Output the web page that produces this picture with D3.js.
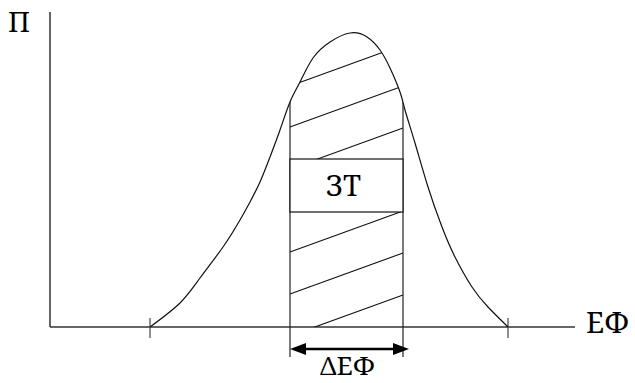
<!DOCTYPE html>
<html>
<head>
<meta charset="utf-8">
<script src="https://cdn.jsdelivr.net/npm/d3@7"></script>
</head>
<body style="margin:0">
<div id="chart"></div>
<script>
// schematic distribution curve, units are arbitrary (x: ЕФ, y: П)
const curveX = [20, 26, 30, 34.6, 38, 40, 42, 44, 46, 48, 50, 52.6, 56, 60, 63.4, 66, 68, 70, 71, 73, 75.6, 78.4, 81, 84.4, 87.6, 91.6];
const curveY = [0, 4.8, 9.8, 16, 21.4, 25, 29, 34, 39.4, 45, 49, 53.8, 57, 58.8, 58, 55.4, 51.8, 47, 43.4, 36.8, 28, 20, 14, 8, 4, 0];

const tickValues = [20, 91.6];
const band = [48, 70.6];          // ΔЕФ
const boxRange = [23, 33.6];      // ЗТ box, y units
const hatchStarts = [48.2, 40, 31.6, 23.2, 15, 6.6, -1.8]; // y at left edge of band
const hatchRise = 8.2;

const labels = { y: 'П', x: 'ЕФ', box: 'ЗТ', band: 'ΔЕФ' };
// Liberation Serif here has no Cyrillic, so go to fonts that do
const serif = 'Noto Serif, DejaVu Serif, serif';

const w = 635, h = 383;
const svg = d3.select('#chart').append('svg')
  .attr('width', w)
  .attr('height', h);

const x = d3.scaleLinear().domain([0, 105]).range([50, 575]);
const y = d3.scaleLinear().domain([0, 60]).range([327, 27]);

const pts = curveX.map((d, i) => [d, curveY[i]]);

const line = d3.line()
  .x(d => x(d[0]))
  .y(d => y(d[1]))
  .curve(d3.curveNatural);

const area = d3.area()
  .x(d => x(d[0]))
  .y0(y(0))
  .y1(d => y(d[1]))
  .curve(d3.curveNatural);

const defs = svg.append('defs');
defs.append('clipPath').attr('id', 'under')
  .append('path').attr('d', area(pts));

// under curve plus everything below the axis (for the band edges)
const edgeClip = defs.append('clipPath').attr('id', 'edges');
edgeClip.append('path').attr('d', area(pts));
edgeClip.append('rect')
  .attr('x', 0).attr('y', y(0))
  .attr('width', w).attr('height', h - y(0));

// axes
svg.append('line')
  .attr('x1', x(0)).attr('x2', x(0))
  .attr('y1', 12).attr('y2', y(0))
  .style('stroke', '#333').style('stroke-width', 1.5);
svg.append('line')
  .attr('x1', x(0)).attr('x2', x(105))
  .attr('y1', y(0)).attr('y2', y(0))
  .style('stroke', '#333').style('stroke-width', 1.5);

svg.selectAll('.tick')
  .data(tickValues)
  .enter()
  .append('line')
  .attr('class', 'tick')
  .attr('x1', d => x(d)).attr('x2', d => x(d))
  .attr('y1', y(0) - 9).attr('y2', y(0) + 11)
  .style('stroke', '#444').style('stroke-width', 1.2);

// hatch
svg.append('g')
  .attr('clip-path', 'url(#under)')
  .selectAll('line')
  .data(hatchStarts)
  .enter()
  .append('line')
  .attr('x1', x(band[0])).attr('x2', x(band[1]))
  .attr('y1', d => y(d)).attr('y2', d => y(d + hatchRise))
  .style('stroke', '#111').style('stroke-width', 1.1);

// band edges
svg.append('g')
  .attr('clip-path', 'url(#edges)')
  .selectAll('line')
  .data(band)
  .enter()
  .append('line')
  .attr('x1', d => x(d)).attr('x2', d => x(d))
  .attr('y1', 0).attr('y2', 357)
  .style('stroke', '#222').style('stroke-width', 1.2);

// curve
svg.append('path')
  .datum(pts)
  .attr('d', line)
  .style('fill', 'none')
  .style('stroke', '#111')
  .style('stroke-width', 1.2);

// ЗТ box
svg.append('rect')
  .attr('x', x(band[0])).attr('y', y(boxRange[1]))
  .attr('width', x(band[1]) - x(band[0]))
  .attr('height', y(boxRange[0]) - y(boxRange[1]))
  .style('fill', '#fff').style('stroke', '#111').style('stroke-width', 1.2);

svg.append('text')
  .attr('x', (x(band[0]) + x(band[1])) / 2 - 3)
  .attr('y', y(boxRange[0]) - 16)
  .attr('text-anchor', 'middle')
  .attr('font-family', serif)
  .attr('font-size', 29)
  .text(labels.box);

// ΔЕФ arrow
const ay = 349;
svg.append('line')
  .attr('x1', x(band[0]) + 8).attr('x2', x(band[1]) - 2)
  .attr('y1', ay).attr('y2', ay)
  .style('stroke', '#000').style('stroke-width', 2.5);
svg.append('path')
  .attr('d', `M${x(band[0])},${ay} l16,-6 l0,12 Z`)
  .style('fill', '#000');
svg.append('path')
  .attr('d', `M${x(band[1]) + 6},${ay} l-16,-6 l0,12 Z`)
  .style('fill', '#000');

svg.append('text')
  .attr('x', (x(band[0]) + x(band[1])) / 2 + 1)
  .attr('y', 375)
  .attr('text-anchor', 'middle')
  .attr('font-family', serif)
  .attr('font-size', 26)
  .text(labels.band);

svg.append('text')
  .attr('x', 8).attr('y', 32)
  .attr('font-family', serif)
  .attr('font-size', 28)
  .text(labels.y);

svg.append('text')
  .attr('x', 586).attr('y', 333)
  .attr('font-family', serif)
  .attr('font-size', 29)
  .text(labels.x);
</script>
</body>
</html>
